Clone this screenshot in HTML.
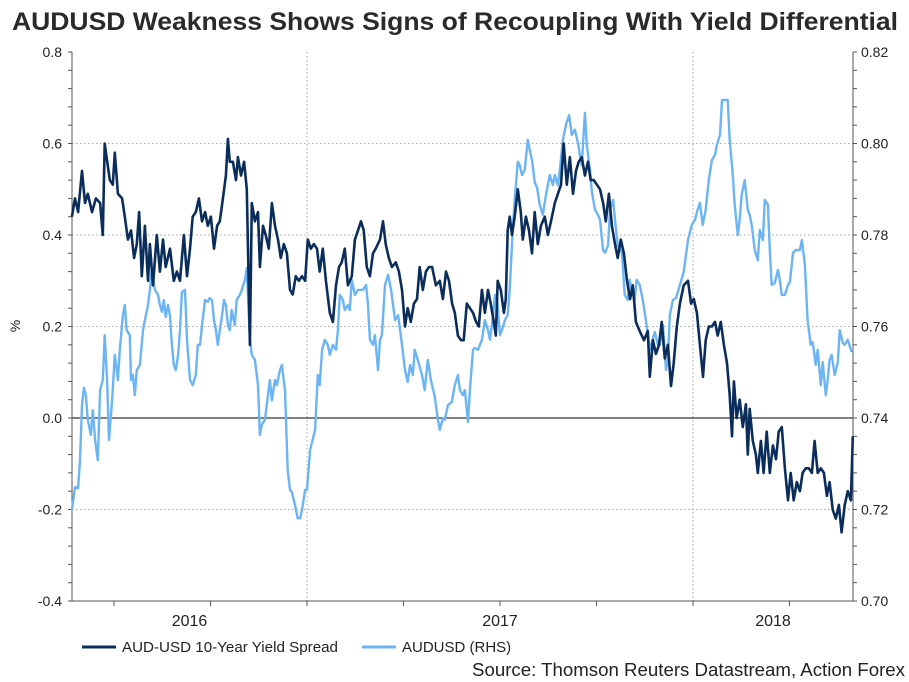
<!DOCTYPE html>
<html><head><meta charset="utf-8"><style>
html,body{margin:0;padding:0;background:#fff;}
svg{display:block;font-family:"Liberation Sans",Arial,sans-serif;}
</style></head><body>
<svg id="chart" width="909" height="682" viewBox="0 0 909 682" xmlns="http://www.w3.org/2000/svg">
<text x="12" y="30" font-size="25" font-weight="bold" fill="#2a2a2a" textLength="886" lengthAdjust="spacingAndGlyphs">AUDUSD Weakness Shows Signs of Recoupling With Yield Differential</text>
<g id="grid"></g>
<g id="axes"></g>
<g id="series"></g>
<text transform="translate(20,326) rotate(-90)" text-anchor="middle" font-size="14" fill="#222">%</text>
<g>
<line x1="82" y1="647" x2="116" y2="647" stroke="#0b2d5b" stroke-width="3"/>
<text x="122" y="652" font-size="15" fill="#222" textLength="216" lengthAdjust="spacingAndGlyphs">AUD-USD 10-Year Yield Spread</text>
<line x1="362" y1="647" x2="396" y2="647" stroke="#6cb4f3" stroke-width="3"/>
<text x="402" y="652" font-size="15" fill="#222">AUDUSD (RHS)</text>
</g>
<text x="472" y="676" font-size="18" fill="#222" textLength="433" lengthAdjust="spacingAndGlyphs">Source: Thomson Reuters Datastream, Action Forex</text>
</svg>
<script>
const spreadDates=[2016.391,2016.399,2016.407,2016.417,2016.425,2016.432,2016.443,2016.453,2016.464,2016.471,2016.476,2016.489,2016.497,2016.502,2016.510,2016.521,2016.528,2016.536,2016.544,2016.552,2016.559,2016.565,2016.572,2016.580,2016.588,2016.593,2016.601,2016.611,2016.619,2016.627,2016.634,2016.645,2016.655,2016.663,2016.671,2016.681,2016.689,2016.697,2016.704,2016.712,2016.720,2016.728,2016.736,2016.743,2016.751,2016.759,2016.767,2016.774,2016.782,2016.790,2016.795,2016.800,2016.808,2016.816,2016.821,2016.829,2016.837,2016.844,2016.852,2016.857,2016.865,2016.873,2016.878,2016.886,2016.893,2016.901,2016.909,2016.917,2016.925,2016.932,2016.940,2016.948,2016.956,2016.963,2016.971,2016.979,2016.987,2016.995,2017.002,2017.010,2017.018,2017.026,2017.033,2017.041,2017.049,2017.059,2017.067,2017.075,2017.083,2017.090,2017.098,2017.106,2017.116,2017.124,2017.132,2017.140,2017.147,2017.155,2017.163,2017.171,2017.178,2017.189,2017.197,2017.204,2017.212,2017.220,2017.230,2017.238,2017.246,2017.254,2017.261,2017.269,2017.277,2017.285,2017.292,2017.300,2017.308,2017.316,2017.324,2017.334,2017.344,2017.352,2017.360,2017.368,2017.376,2017.383,2017.391,2017.399,2017.406,2017.414,2017.422,2017.430,2017.438,2017.445,2017.453,2017.461,2017.469,2017.476,2017.484,2017.489,2017.494,2017.502,2017.510,2017.515,2017.520,2017.525,2017.531,2017.538,2017.546,2017.554,2017.559,2017.567,2017.575,2017.583,2017.590,2017.598,2017.606,2017.616,2017.624,2017.632,2017.642,2017.650,2017.658,2017.665,2017.673,2017.681,2017.689,2017.697,2017.704,2017.712,2017.720,2017.728,2017.735,2017.743,2017.751,2017.759,2017.767,2017.774,2017.782,2017.790,2017.798,2017.805,2017.813,2017.821,2017.829,2017.837,2017.844,2017.852,2017.862,2017.873,2017.883,2017.888,2017.896,2017.904,2017.912,2017.919,2017.927,2017.935,2017.943,2017.950,2017.958,2017.966,2017.976,2017.987,2017.995,2018.002,2018.010,2018.018,2018.026,2018.033,2018.041,2018.049,2018.057,2018.064,2018.072,2018.080,2018.088,2018.095,2018.101,2018.106,2018.113,2018.121,2018.129,2018.137,2018.142,2018.147,2018.155,2018.163,2018.168,2018.176,2018.183,2018.191,2018.199,2018.207,2018.215,2018.222,2018.230,2018.238,2018.246,2018.253,2018.261,2018.269,2018.277,2018.284,2018.292,2018.300,2018.308,2018.315,2018.323,2018.331,2018.339,2018.347,2018.354,2018.362,2018.370,2018.378,2018.385,2018.393,2018.401,2018.409,2018.414];
const spreadValues=[0.44,0.48,0.45,0.54,0.47,0.49,0.45,0.48,0.47,0.40,0.60,0.52,0.51,0.58,0.49,0.48,0.44,0.39,0.41,0.35,0.38,0.45,0.31,0.42,0.30,0.38,0.29,0.40,0.32,0.39,0.33,0.37,0.30,0.32,0.30,0.40,0.31,0.37,0.44,0.45,0.48,0.43,0.45,0.42,0.44,0.37,0.42,0.43,0.48,0.53,0.61,0.56,0.56,0.52,0.57,0.53,0.56,0.50,0.16,0.47,0.43,0.45,0.33,0.42,0.40,0.37,0.47,0.42,0.39,0.35,0.38,0.36,0.28,0.27,0.31,0.30,0.31,0.30,0.39,0.37,0.38,0.37,0.32,0.37,0.30,0.23,0.21,0.29,0.33,0.34,0.37,0.29,0.31,0.39,0.41,0.43,0.41,0.33,0.31,0.36,0.37,0.39,0.43,0.38,0.35,0.33,0.34,0.32,0.28,0.20,0.24,0.21,0.25,0.26,0.33,0.28,0.32,0.33,0.33,0.29,0.30,0.26,0.32,0.30,0.25,0.23,0.18,0.17,0.17,0.25,0.24,0.23,0.21,0.20,0.28,0.23,0.28,0.25,0.21,0.18,0.30,0.28,0.23,0.26,0.41,0.44,0.40,0.44,0.50,0.45,0.39,0.44,0.41,0.36,0.45,0.38,0.42,0.44,0.40,0.43,0.47,0.49,0.51,0.60,0.51,0.57,0.49,0.54,0.56,0.57,0.53,0.56,0.52,0.52,0.51,0.50,0.47,0.43,0.49,0.42,0.38,0.35,0.39,0.36,0.30,0.26,0.29,0.21,0.19,0.17,0.19,0.09,0.17,0.14,0.16,0.21,0.13,0.16,0.07,0.12,0.20,0.25,0.29,0.30,0.25,0.26,0.23,0.16,0.09,0.17,0.20,0.20,0.21,0.18,0.21,0.16,0.12,0.05,-0.04,0.08,0.00,0.04,-0.02,0.03,-0.08,0.02,-0.05,-0.08,-0.12,-0.05,-0.12,-0.03,-0.12,-0.06,-0.09,-0.03,-0.02,-0.11,-0.18,-0.12,-0.18,-0.14,-0.16,-0.12,-0.11,-0.11,-0.12,-0.05,-0.12,-0.11,-0.12,-0.17,-0.14,-0.20,-0.22,-0.19,-0.25,-0.19,-0.16,-0.18,-0.04];
const audDates=[2016.391,2016.399,2016.407,2016.412,2016.417,2016.422,2016.427,2016.432,2016.440,2016.445,2016.451,2016.458,2016.464,2016.471,2016.476,2016.482,2016.487,2016.495,2016.502,2016.510,2016.515,2016.523,2016.528,2016.533,2016.541,2016.544,2016.549,2016.554,2016.559,2016.567,2016.575,2016.580,2016.588,2016.593,2016.598,2016.606,2016.614,2016.619,2016.624,2016.629,2016.634,2016.640,2016.645,2016.650,2016.655,2016.660,2016.666,2016.671,2016.676,2016.684,2016.689,2016.697,2016.704,2016.712,2016.717,2016.723,2016.728,2016.736,2016.743,2016.748,2016.754,2016.759,2016.764,2016.769,2016.774,2016.780,2016.785,2016.790,2016.795,2016.800,2016.805,2016.813,2016.818,2016.826,2016.831,2016.839,2016.844,2016.852,2016.857,2016.865,2016.873,2016.878,2016.883,2016.891,2016.899,2016.904,2016.909,2016.917,2016.922,2016.930,2016.935,2016.943,2016.950,2016.956,2016.961,2016.969,2016.976,2016.982,2016.987,2016.995,2017.000,2017.008,2017.021,2017.028,2017.033,2017.039,2017.046,2017.054,2017.059,2017.067,2017.075,2017.080,2017.085,2017.093,2017.098,2017.106,2017.111,2017.116,2017.124,2017.132,2017.137,2017.145,2017.153,2017.158,2017.163,2017.171,2017.176,2017.184,2017.189,2017.194,2017.202,2017.210,2017.218,2017.228,2017.236,2017.246,2017.254,2017.261,2017.267,2017.274,2017.279,2017.287,2017.298,2017.305,2017.313,2017.321,2017.331,2017.339,2017.344,2017.352,2017.357,2017.365,2017.375,2017.383,2017.391,2017.396,2017.404,2017.409,2017.417,2017.422,2017.430,2017.435,2017.443,2017.453,2017.461,2017.469,2017.474,2017.482,2017.487,2017.492,2017.500,2017.505,2017.513,2017.520,2017.525,2017.533,2017.538,2017.546,2017.551,2017.557,2017.564,2017.572,2017.577,2017.583,2017.590,2017.596,2017.603,2017.611,2017.619,2017.629,2017.637,2017.642,2017.650,2017.655,2017.663,2017.671,2017.679,2017.686,2017.694,2017.702,2017.707,2017.712,2017.720,2017.725,2017.733,2017.738,2017.746,2017.754,2017.759,2017.767,2017.772,2017.780,2017.785,2017.793,2017.798,2017.805,2017.816,2017.823,2017.831,2017.836,2017.841,2017.849,2017.854,2017.862,2017.870,2017.878,2017.888,2017.901,2017.909,2017.914,2017.922,2017.930,2017.935,2017.940,2017.948,2017.956,2017.966,2017.976,2017.987,2017.997,2018.005,2018.012,2018.018,2018.025,2018.033,2018.041,2018.049,2018.057,2018.062,2018.070,2018.075,2018.085,2018.090,2018.095,2018.103,2018.108,2018.116,2018.121,2018.126,2018.134,2018.142,2018.147,2018.152,2018.160,2018.168,2018.173,2018.181,2018.186,2018.194,2018.199,2018.204,2018.212,2018.220,2018.225,2018.230,2018.238,2018.246,2018.251,2018.259,2018.266,2018.277,2018.282,2018.290,2018.297,2018.305,2018.310,2018.318,2018.323,2018.331,2018.336,2018.344,2018.349,2018.354,2018.359,2018.367,2018.375,2018.380,2018.388,2018.393,2018.401,2018.411];
const audValues=[0.7199,0.7249,0.7247,0.7308,0.7428,0.7466,0.7450,0.7396,0.7363,0.7417,0.7352,0.7308,0.7461,0.7483,0.7581,0.7483,0.7352,0.7439,0.7538,0.7483,0.7549,0.7625,0.7647,0.7592,0.7581,0.7483,0.7494,0.7450,0.7505,0.7516,0.7592,0.7614,0.7647,0.7680,0.7724,0.7680,0.7669,0.7647,0.7632,0.7658,0.7621,0.7647,0.7623,0.7560,0.7516,0.7505,0.7538,0.7592,0.7675,0.7680,0.7571,0.7483,0.7472,0.7494,0.7560,0.7560,0.7603,0.7658,0.7654,0.7662,0.7658,0.7614,0.7592,0.7560,0.7592,0.7625,0.7658,0.7647,0.7603,0.7592,0.7636,0.7603,0.7658,0.7669,0.7680,0.7702,0.7728,0.7571,0.7538,0.7527,0.7472,0.7363,0.7385,0.7396,0.7450,0.7483,0.7439,0.7483,0.7472,0.7505,0.7516,0.7461,0.7286,0.7243,0.7238,0.7210,0.7181,0.7181,0.7199,0.7243,0.7243,0.7330,0.7374,0.7494,0.7472,0.7549,0.7571,0.7560,0.7538,0.7560,0.7549,0.7592,0.7669,0.7658,0.7636,0.7647,0.7636,0.7702,0.7669,0.7680,0.7680,0.7680,0.7691,0.7647,0.7571,0.7560,0.7581,0.7505,0.7571,0.7581,0.7691,0.7713,0.7680,0.7614,0.7625,0.7560,0.7505,0.7479,0.7516,0.7494,0.7549,0.7527,0.7494,0.7461,0.7527,0.7483,0.7446,0.7396,0.7374,0.7400,0.7396,0.7428,0.7435,0.7472,0.7494,0.7461,0.7450,0.7461,0.7391,0.7461,0.7549,0.7553,0.7549,0.7571,0.7614,0.7592,0.7571,0.7625,0.7669,0.7665,0.7581,0.7592,0.7614,0.7625,0.7680,0.7811,0.7877,0.7960,0.7953,0.7931,0.7942,0.8008,0.7986,0.7964,0.7916,0.7903,0.7866,0.7844,0.7887,0.7931,0.7909,0.7931,0.7909,0.7942,0.8008,0.8041,0.8062,0.8019,0.8030,0.8001,0.7975,0.7953,0.8067,0.7997,0.7942,0.7894,0.7855,0.7844,0.7833,0.7767,0.7761,0.7778,0.7855,0.7877,0.7833,0.7778,0.7761,0.7669,0.7658,0.7702,0.7680,0.7658,0.7702,0.7691,0.7658,0.7614,0.7549,0.7588,0.7560,0.7560,0.7603,0.7505,0.7527,0.7625,0.7658,0.7662,0.7691,0.7719,0.7789,0.7822,0.7833,0.7855,0.7870,0.7822,0.7855,0.7920,0.7964,0.7975,0.7997,0.8019,0.8095,0.8095,0.8095,0.8008,0.7931,0.7866,0.7800,0.7833,0.7887,0.7920,0.7855,0.7844,0.7822,0.7767,0.7745,0.7811,0.7789,0.7877,0.7866,0.7767,0.7691,0.7695,0.7724,0.7702,0.7669,0.7669,0.7691,0.7697,0.7761,0.7767,0.7767,0.7789,0.7734,0.7614,0.7560,0.7566,0.7516,0.7549,0.7472,0.7522,0.7450,0.7483,0.7527,0.7538,0.7494,0.7522,0.7592,0.7564,0.7560,0.7571,0.7544];
const leftTicks=[0.8,0.6,0.4,0.2,0.0,-0.2,-0.4];
const leftTickLabels=["0.8","0.6","0.4","0.2","0.0","-0.2","-0.4"];
const rightTicks=[0.82,0.80,0.78,0.76,0.74,0.72,0.70];
const rightTickLabels=["0.82","0.80","0.78","0.76","0.74","0.72","0.70"];
const yearLabels=["2016","2017","2018"];
const yearStarts=[2016,2017,2018];

const X0=72,X1=853,Y0=52,Y1=601;
const xs=t=>307+(t-2017)*386;
const yl=v=>Y1-(v-(-0.4))/(1.2)*(Y1-Y0);
const yr=v=>Y1-(v-0.70)/(0.12)*(Y1-Y0);
const NS="http://www.w3.org/2000/svg";
function mk(tag,attrs,parent){const e=document.createElementNS(NS,tag);for(const k in attrs)e.setAttribute(k,attrs[k]);parent.appendChild(e);return e;}
const grid=document.getElementById('grid'),axes=document.getElementById('axes'),series=document.getElementById('series');

leftTicks.forEach((v,i)=>{
  const y=yl(v);
  if(v!==0&&v!==0.8&&v!==-0.4){
    const g=mk('line',{x1:X0,x2:X1,y1:y,y2:y,stroke:'#a8a8a8','stroke-width':1,'stroke-dasharray':'1.5,2.5'},grid);
    
    
  }
  const t=mk('text',{x:X0-10,y:y+5,'text-anchor':'end','font-size':14,fill:'#222'},axes);
  t.textContent=leftTickLabels[i];
  
  
});
rightTicks.forEach((v,i)=>{
  const t=mk('text',{x:X1+8,y:yr(v)+5,'font-size':14,fill:'#222'},axes);
  t.textContent=rightTickLabels[i];
  
  
});
for(let k=0;k<=30;k++){
  const y=Y0+k*(Y1-Y0)/30;
  mk('line',{x1:X0-4,x2:X0,y1:y,y2:y,stroke:'#555','stroke-width':1},axes);
  mk('line',{x1:X1,x2:X1+4,y1:y,y2:y,stroke:'#555','stroke-width':1},axes);
}
[2017,2018].forEach(yv=>{
  const g=mk('line',{x1:xs(yv),x2:xs(yv),y1:Y0,y2:Y1,stroke:'#a8a8a8','stroke-width':1,'stroke-dasharray':'1.5,2.5'},grid);
  
  
});
for(let q=2016;q<=2018.5;q+=0.25){
  const x=xs(q);if(x<X0||x>X1)continue;
  mk('line',{x1:x,x2:x,y1:Y1,y2:Y1+5,stroke:'#555','stroke-width':1},axes);
}
yearLabels.forEach((lab,i)=>{
  const a=Math.max(xs(yearStarts[i]),X0),b=Math.min(xs(yearStarts[i]+1),X1);
  const t=mk('text',{x:(a+b)/2,y:626,'text-anchor':'middle','font-size':16,fill:'#222'},axes);
  t.textContent=lab;
  
  
});
const zl=mk('line',{x1:X0,x2:X1,y1:yl(0),y2:yl(0),stroke:'#000','stroke-width':1},axes);


mk('line',{x1:X0,x2:X0,y1:Y0,y2:Y1,stroke:'#555','stroke-width':1},axes);
mk('line',{x1:X1,x2:X1,y1:Y0,y2:Y1,stroke:'#555','stroke-width':1},axes);
mk('line',{x1:X0,x2:X1,y1:Y1,y2:Y1,stroke:'#555','stroke-width':1},axes);

function path(dates,vals,fy){return dates.map((d,i)=>(i?'L':'M')+xs(d).toFixed(1)+','+fy(vals[i]).toFixed(1)).join(' ');}
const la=mk('path',{d:path(audDates,audValues,yr),fill:'none',stroke:'#6cb4f3','stroke-width':2.4,'stroke-linejoin':'round'},series);


const ls=mk('path',{d:path(spreadDates,spreadValues,yl),fill:'none',stroke:'#0b2d5b','stroke-width':2.6,'stroke-linejoin':'round'},series);


</script>
</body></html>
